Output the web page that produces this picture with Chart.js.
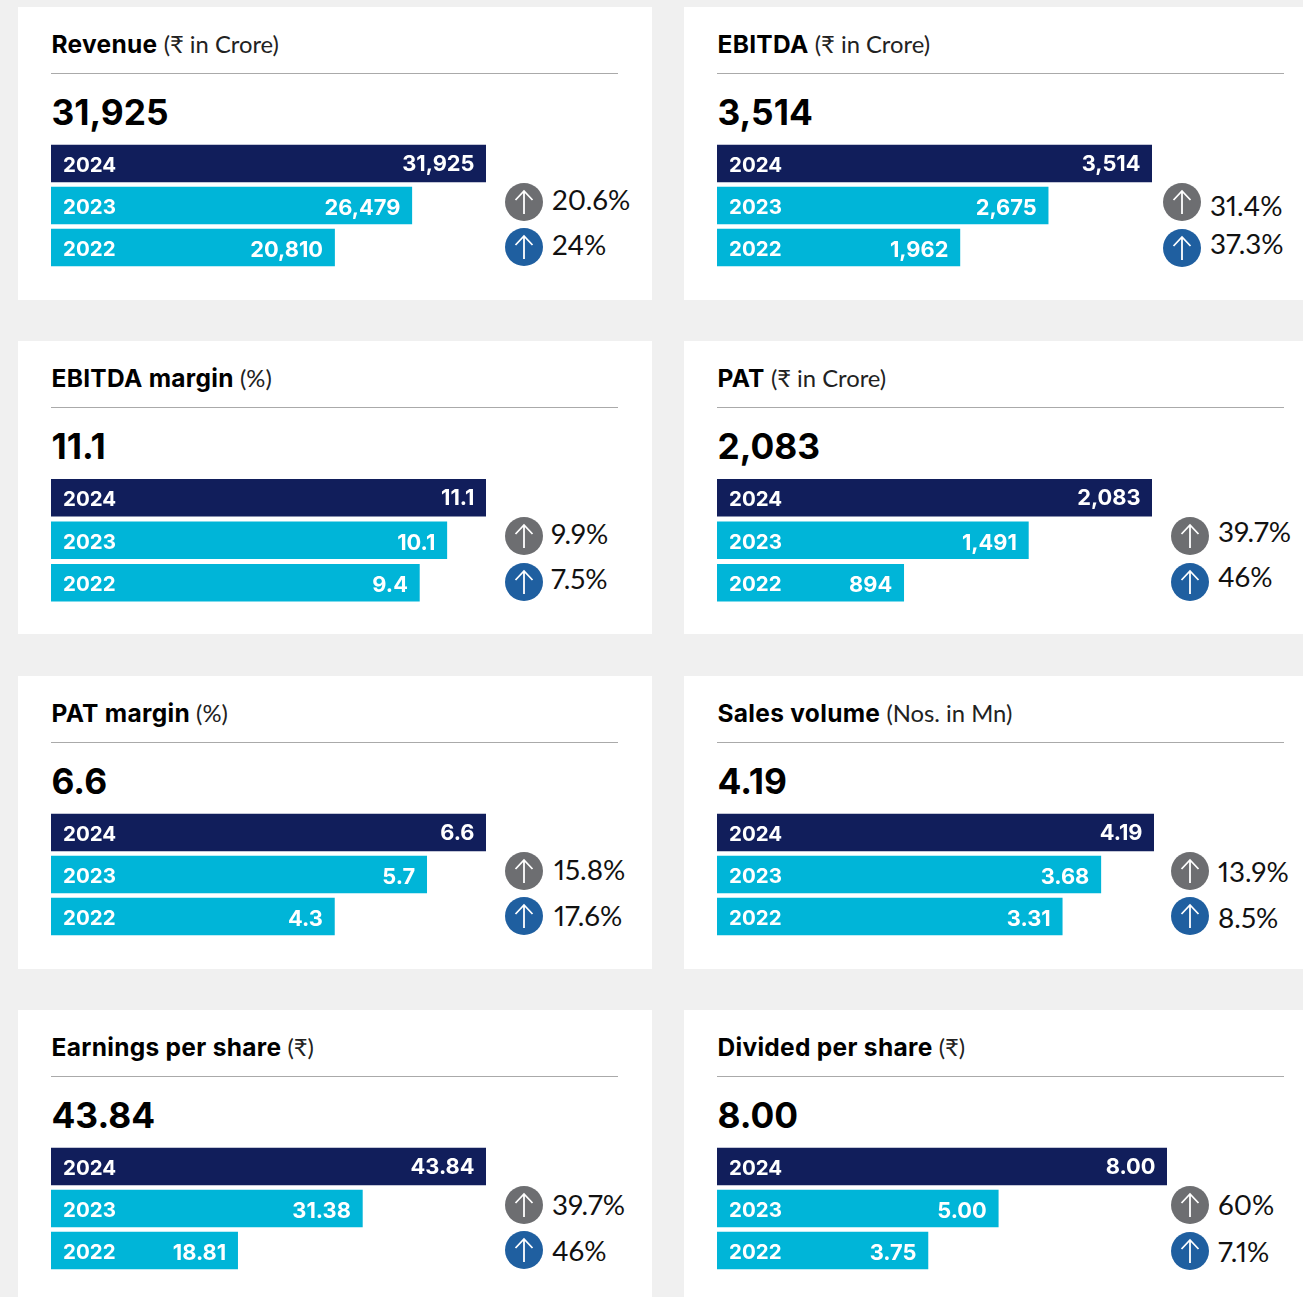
<!DOCTYPE html>
<html><head><meta charset="utf-8">
<script src="https://cdn.jsdelivr.net/npm/chart.js@4"></script>
<style>
html,body{margin:0;padding:0;background:#f0f0f0;}
body{position:relative;width:1303px;height:1297px;overflow:hidden;font-family:Lato,sans-serif;color:#000;}
.card{position:absolute;background:#fff;height:293px;width:634px;}
.title{position:absolute;left:33.5px;top:22px;font-size:24px;line-height:30px;white-space:nowrap;}
.title b{font-family:Inter,sans-serif;font-size:24.5px;font-weight:700;letter-spacing:.3px;}
.title span{font-size:23.8px;color:#222;}
.rule{position:absolute;left:33px;top:66px;width:567px;height:1px;background:#aaa;}
.big{position:absolute;left:33.5px;top:84px;font-family:Inter,sans-serif;font-size:35.3px;line-height:44px;font-weight:700;}
canvas{position:absolute;}
.wrap{position:absolute;}
.pct{position:absolute;font-size:27.8px;line-height:32px;white-space:nowrap;color:#111;font-variant-numeric:proportional-nums;}
svg{position:absolute;}
</style></head><body>
<script>
const years = ['2024','2023','2022'];
const titles = ['Revenue','EBITDA','EBITDA margin','PAT','PAT margin','Sales volume','Earnings per share','Divided per share'];
const units = ['(₹ in Crore)','(₹ in Crore)','(%)','(₹ in Crore)','(%)','(Nos. in Mn)','(₹)','(₹)'];
const revenue = [31925,26479,20810];
const ebitda = [3514,2675,1962];
const ebitdaMargin = [11.1,10.1,9.4];
const pat = [2083,1491,894];
const patMargin = [6.6,5.7,4.3];
const salesVolume = [4.19,3.68,3.31];
const eps = [43.84,31.38,18.81];
const dividend = [8.00,5.00,3.75];
const series = [revenue,ebitda,ebitdaMargin,pat,patMargin,salesVolume,eps,dividend];
const valueLabels = [
 ['31,925','26,479','20,810'],['3,514','2,675','1,962'],['11.1','10.1','9.4'],['2,083','1,491','894'],
 ['6.6','5.7','4.3'],['4.19','3.68','3.31'],['43.84','31.38','18.81'],['8.00','5.00','3.75']];
const changeGrey = ['20.6%','31.4%','9.9%','39.7%','15.8%','13.9%','39.7%','60%'];
const changeBlue = ['24%','37.3%','7.5%','46%','17.6%','8.5%','46%','7.1%'];

// layout only
const cardTops = [7,7,341,341,676,676,1010,1010];
const cardLefts = [18,684,18,684,18,684,18,684];
const barWidths = [435,435,435,435,435,437,435,450];
const barTops = [145,145,479,479,814,814,1148,1148];
const plotHeights = [126,126,127.5,127.5,126,126,126,126];
const iconX = [505,1163,505,1171,505,1171,505,1171];
const textX = [552,1210,551,1218,554,1218,552,1218];
const iconY = [[202,247],[202,248],[536,582],[536,582],[871,916],[871,916],[1205,1250],[1205,1251]];
const textY = [[200,245],[206,244],[534,579],[532,577],[870,916],[872,918],[1205,1251],[1205,1252]];

const NAVY='#111e5b', CYAN='#00b5d8', GREY='#6d6e71', BLUE='#1f5fa0';

function el(tag,cls,parent,text){const e=document.createElement(tag);if(cls)e.className=cls;if(text!=null)e.textContent=text;(parent||document.body).appendChild(e);return e;}

function icon(x,cy,color){
 const ns='http://www.w3.org/2000/svg';
 const s=document.createElementNS(ns,'svg');
 s.setAttribute('width','38');s.setAttribute('height','38');s.setAttribute('viewBox','0 0 38 38');
 s.style.left=x+'px';s.style.top=(cy-19)+'px';
 s.innerHTML=`<circle cx="19" cy="19" r="19" fill="${color}"/><path d="M19 31V8M10.5 17L19 8l8.5 9" fill="none" stroke="#fff" stroke-width="1.8"/>`;
 document.body.appendChild(s);
}

const barLabelPlugin={id:'barLabels',afterDatasetsDraw(chart,args,opts){
 const ctx=chart.ctx,y=chart.scales.y;ctx.save();
 ctx.fillStyle='#fff';ctx.textBaseline='middle';
 chart.getDatasetMeta(0).data.forEach((bar,i)=>{
  ctx.font='700 20.5px Inter, sans-serif';ctx.textAlign='left';
  ctx.fillText(y.getLabelForValue(i),chart.chartArea.left+12,bar.y+2.5);
  ctx.font='700 21.8px Inter, sans-serif';ctx.textAlign='right';
  ctx.fillText(opts.labels[i],bar.x-11.5,bar.y+(i===0?1:3));
 });
 ctx.restore();
}};

titles.forEach((t,i)=>{
 const card=el('div','card');card.style.left=cardLefts[i]+'px';card.style.top=cardTops[i]+'px';
 if(cardLefts[i]>600)card.style.width='619px';
 const h=el('div','title',card);el('b','',h,t);h.appendChild(document.createTextNode(' '));el('span','',h,units[i]);
 el('div','rule',card);
 el('div','big',card,valueLabels[i][0]);

 const wrap=el('div','wrap');
 const W=barWidths[i],P=plotHeights[i],H=Math.ceil(P)+1,pad=(H-P)/2-(P>126?.25:0);
 wrap.style.cssText=`left:${cardLefts[i]+33}px;top:${barTops[i]-3}px;width:${W}px;height:${H}px;`;
 const c=el('canvas','',wrap);
 c.width=W;c.height=H;
 new Chart(c,{type:'bar',
  data:{labels:years,datasets:[{data:series[i],backgroundColor:[NAVY,CYAN,CYAN],barThickness:37,borderWidth:0}]},
  plugins:[barLabelPlugin],
  options:{indexAxis:'y',responsive:false,animation:false,devicePixelRatio:1,
   layout:{padding:{top:pad,bottom:H-P-pad,left:0,right:0}},
   plugins:{legend:{display:false},tooltip:{enabled:false},barLabels:{labels:valueLabels[i]}},
   scales:{
    x:{display:false,min:0,max:series[i][0]},
    y:{display:false}
   }}});

 icon(iconX[i],iconY[i][0],GREY);icon(iconX[i],iconY[i][1],BLUE);
 [changeGrey[i],changeBlue[i]].forEach((txt,k)=>{
  const p=el('div','pct',null,txt);p.style.left=textX[i]+'px';p.style.top=(textY[i][k]-16.5)+'px';
 });
});
</script>
</body></html>
